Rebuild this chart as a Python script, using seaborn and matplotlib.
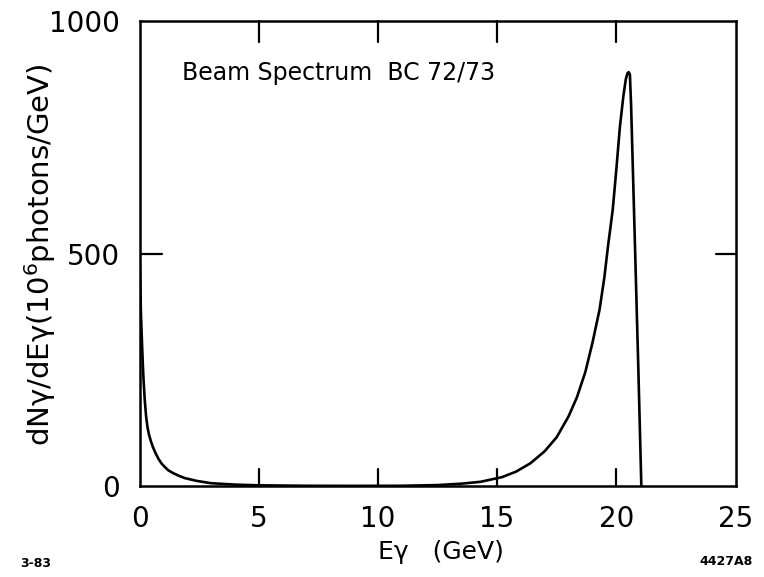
import matplotlib
matplotlib.use("Agg")
import matplotlib.pyplot as plt
import seaborn as sns
import pandas as pd

# Photon energy (GeV) and beam spectrum dN/dE (10^6 photons/GeV)
energy = [0.0, 0.03, 0.06, 0.1, 0.14, 0.17, 0.22, 0.28, 0.34, 0.4, 0.48, 0.56,
          0.68, 0.8, 0.93, 1.06, 1.2, 1.4, 1.65, 1.9, 2.4, 3.0,
          4.0, 5.0, 7.0, 9.0, 11.0, 12.5, 13.5, 14.3, 15.2, 15.8, 16.4, 17.0,
          17.5, 18.0, 18.35, 18.7, 19.0, 19.3, 19.5, 19.65, 19.85, 20.0,
          20.15, 20.3, 20.4, 20.47, 20.52, 20.57, 20.62, 20.78, 20.92, 21.05]
flux = [500, 440, 370, 314, 260, 228, 185, 148, 125, 110, 96, 84,
        70, 58, 48, 41, 34, 28, 22, 17, 11, 6,
        3, 1.5, 0.5, 0.3, 0.5, 2, 5, 9, 19, 31, 49, 75,
        105, 150, 191, 245, 308, 380, 449, 515, 594, 680,
        772, 840, 875, 888, 890, 885, 820, 523, 260, 0]

x_ticks = [0, 5, 10, 15, 20, 25]
y_ticks = [0, 500, 1000]

df = pd.DataFrame({"E": energy, "dN": flux})

sns.set_theme(style="white")
plt.rcParams["font.family"] = ["DejaVu Sans"]

fig = plt.figure(figsize=(7.64, 5.77), dpi=100)
ax = fig.add_axes([0.1826, 0.1577, 0.7801, 0.8059])

sns.lineplot(data=df, x="E", y="dN", ax=ax, color="black", linewidth=1.9,
             sort=False, estimator=None)

ax.set_xlim(0, 25)
ax.set_ylim(0, 1000)
ax.set_xticks(x_ticks)
ax.set_yticks(y_ticks)
ax.set_xticklabels([str(t) for t in x_ticks])
ax.set_yticklabels([str(t) for t in y_ticks])

for s in ax.spines.values():
    s.set_color("black")
    s.set_linewidth(1.8)

ax.tick_params(axis="both", which="major", direction="in", length=0,
               labelsize=20, colors="black")
ax.tick_params(axis="x", pad=14)
ax.tick_params(axis="y", pad=14)

# inward tick marks (top, bottom, sides) drawn on the axes
for t in [5, 10, 15, 20]:
    ax.plot([t, t], [1000, 955], color="black", lw=1.6, clip_on=False)
    ax.plot([t, t], [0, 37], color="black", lw=1.6, clip_on=False)
ax.plot([0, 0.95], [500, 500], color="black", lw=1.6)
ax.plot([25, 24.2], [500, 500], color="black", lw=1.6)

ax.set_xlabel("")
ax.set_ylabel("")

ax.text(1.8, 888, "Beam Spectrum  BC 72/73", fontsize=17, ha="left",
        va="center", color="black")

fig.text(0.577, 0.043, "E\u03b3   (GeV)", fontsize=18, ha="center",
         va="center", color="black")
fig.text(0.052, 0.558, "dN\u03b3/dE\u03b3(10$^6$photons/GeV)", fontsize=21,
         rotation=90, ha="center", va="center", color="black")

fig.text(0.026, 0.012, "3-83", fontsize=9, fontweight="bold", ha="left",
         va="bottom", color="black")
fig.text(0.985, 0.016, "4427A8", fontsize=9, fontweight="bold", ha="right",
         va="bottom", color="black")

fig.savefig("out.png", dpi=100, facecolor="white")
